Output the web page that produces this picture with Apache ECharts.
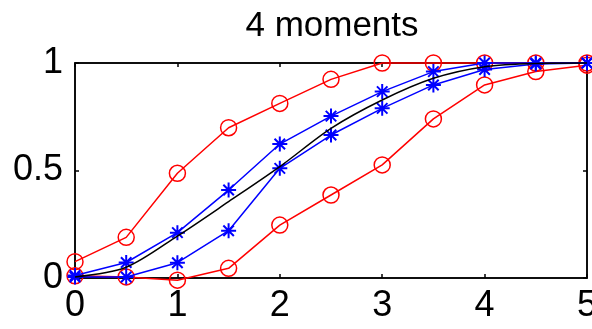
<!DOCTYPE html>
<html>
<head>
<meta charset="utf-8">
<script src="https://cdn.jsdelivr.net/npm/echarts@6/dist/echarts.min.js"></script>
<style>html,body{margin:0;padding:0;background:#fff}#c{width:592px;height:329px}</style>
</head>
<body>
<div id="c"></div>
<script>
var xValues = [0, 0.5, 1, 1.5, 2, 2.5, 3, 3.5, 4, 4.5, 5];
var redUpper = [0.076, 0.189, 0.487, 0.699, 0.812, 0.924, 1.0, 1.0, 1.0, 1.0, 1.0];
var redLower = [0.01, 0.005, -0.01, 0.045, 0.246, 0.386, 0.526, 0.74, 0.898, 0.96, 0.99];
var blueUpper = [0.012, 0.072, 0.211, 0.409, 0.623, 0.753, 0.867, 0.96, 1.0, 1.0, 1.0];
var blueLower = [0.005, 0.005, 0.071, 0.22, 0.51, 0.665, 0.789, 0.898, 0.97, 0.995, 1.0];
var blackLine = [0.005, 0.05, 0.195, 0.355, 0.518, 0.696, 0.828, 0.929, 0.983, 0.998, 1.0];
var xTicks = [0, 1, 2, 3, 4, 5];
var yTicks = [0, 0.5, 1];
var titleText = '4 moments';

function pairs(ys) { return xValues.map(function (x, i) { return [x, ys[i]]; }); }

var FONT = 'Liberation Sans, Arial, sans-serif';
var asterisk = 'path://M10,0L10,20M0,10L20,10M3,3L17,17M3,17L17,3';

var chart = echarts.init(document.getElementById('c'), null, {renderer: 'canvas'});
var axisCommon = {
  type: 'value', splitLine: {show: false},
  axisLine: {show: true, onZero: false, lineStyle: {color: '#000', width: 1.5}},
  axisTick: {show: true, inside: true, length: 4, lineStyle: {color: '#000', width: 1.5}}
};
function redSeries(d) {
  return {type: 'line', data: pairs(d), symbol: 'circle', symbolSize: 16, showSymbol: true, clip: false,
    lineStyle: {color: '#ff0000', width: 1.5},
    itemStyle: {color: 'rgba(0,0,0,0)', borderColor: '#ff0000', borderWidth: 1.5},
    emphasis: {disabled: true}, animation: false, z: 2};
}
function blueSeries(d) {
  return {type: 'line', data: pairs(d), symbol: asterisk, symbolSize: 15, showSymbol: true, clip: false,
    lineStyle: {color: '#0000ff', width: 1.5},
    itemStyle: {color: 'rgba(0,0,0,0)', borderColor: '#0000ff', borderWidth: 2},
    emphasis: {disabled: true}, animation: false, z: 3};
}
chart.setOption({
  animation: false,
  backgroundColor: '#fff',
  title: {text: titleText, left: 327, top: 4, textAlign: 'center',
    textStyle: {fontFamily: FONT, fontSize: 35, fontWeight: 'normal', color: '#000'}},
  grid: {left: 75, right: 5, top: 63, bottom: 51, show: true, borderColor: '#000', borderWidth: 1.5,
    containLabel: false, outerBoundsMode: 'none'},
  xAxis: [
    Object.assign({}, axisCommon, {min: 0, max: 5, interval: 1, position: 'bottom',
      axisLabel: {fontFamily: FONT, fontSize: 36, color: '#000', margin: 10,
        customValues: xTicks},
      axisTick: Object.assign({}, axisCommon.axisTick, {customValues: xTicks})}),
    Object.assign({}, axisCommon, {min: 0, max: 5, interval: 1, position: 'top',
      axisLabel: {show: false}})
  ],
  yAxis: [
    Object.assign({}, axisCommon, {min: 0, max: 1, interval: 0.5, position: 'left',
      axisLabel: {fontFamily: FONT, fontSize: 36, color: '#000', margin: 12,
        customValues: yTicks}}),
    Object.assign({}, axisCommon, {min: 0, max: 1, interval: 0.5, position: 'right',
      axisLabel: {show: false}})
  ],
  series: [
    redSeries(redUpper),
    redSeries(redLower),
    blueSeries(blueUpper),
    blueSeries(blueLower),
    {type: 'line', data: pairs(blackLine), symbol: 'none', smooth: 0.3, clip: false,
      lineStyle: {color: '#000', width: 1.5}, emphasis: {disabled: true}, animation: false, z: 4}
  ]
});
</script>
</body>
</html>
